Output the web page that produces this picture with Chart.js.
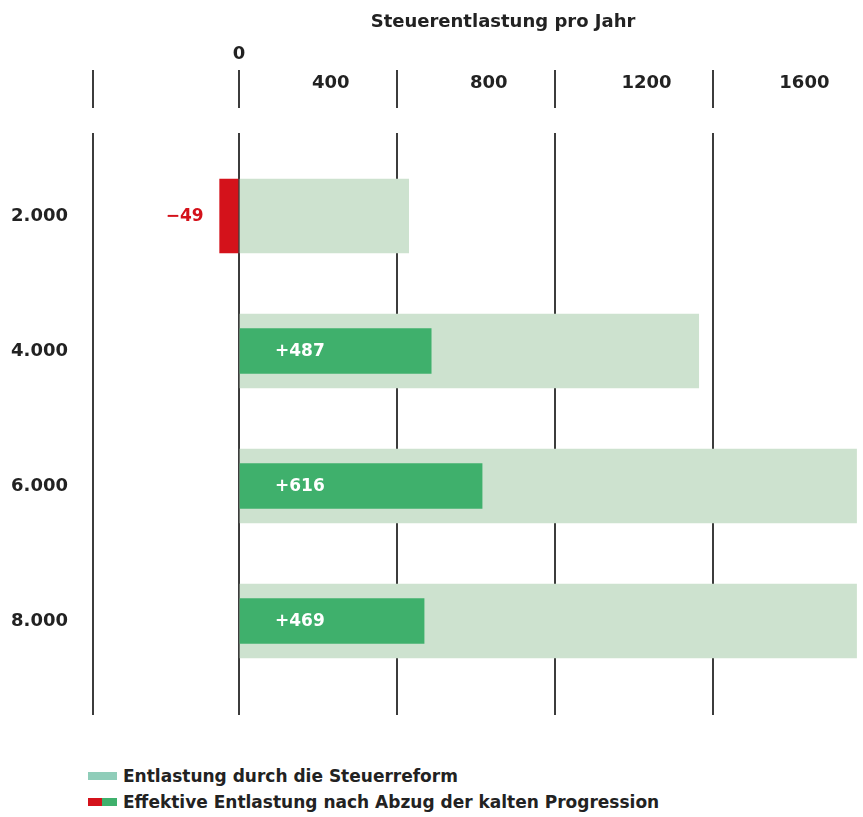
<!DOCTYPE html>
<html lang="de">
<head>
<meta charset="utf-8">
<title>Steuerentlastung pro Jahr</title>
<script src="https://cdn.jsdelivr.net/npm/chart.js@4.4.1/dist/chart.umd.min.js"></script>
<style>
  html, body { margin: 0; padding: 0; background: #fff; }
  #wrap { position: relative; width: 863px; height: 817px; overflow: hidden; }
  #grafica { position: absolute; left: 0; top: 0; }
  #legende { position: absolute; left: 88px; top: 763px; font: bold 17px "DejaVu Sans", sans-serif; color: #222; }
  .eintrag { height: 26px; line-height: 26px; white-space: nowrap; }
  .farbe { display: inline-block; width: 29px; height: 8px; vertical-align: middle; margin: -2px 6px 0 0; }
</style>
</head>
<body>
<div id="wrap">
  <canvas id="grafica" width="913" height="740"></canvas>
  <div id="legende"></div>
</div>
<script>
// Daten
const kategorien = ['2.000', '4.000', '6.000', '8.000'];
const entlastungReform = [430, 1165, 1565, 1565];
const entlastungEffektiv = [-49, 487, 616, 469];
const gitterWerte = [-370, 0, 400, 800, 1200, 1600];
const achsenBeschriftung = ['400', '800', '1200', '1600'];
const serienNamen = ['Entlastung durch die Steuerreform', 'Effektive Entlastung nach Abzug der kalten Progression'];

const farbeHell = '#cde2cf';
const farbeLegende = '#8fcdb9';
const farbeGruen = '#3fb06c';
const farbeRot = '#d4121b';
const farbeText = '#222';
const farbeGitter = '#3c3c3c';

const xMin = -370, xMax = 1708;
const yMin = -0.615, yMax = 3.696;

const schrift = { family: '"DejaVu Sans", sans-serif', size: 18, weight: 'bold', lineHeight: 1 };

// Legende unter der Grafik
const legende = document.getElementById('legende');
const swatches = [farbeLegende, 'linear-gradient(90deg,' + farbeRot + ' 0 50%,' + farbeGruen + ' 50% 100%)'];
serienNamen.forEach(function(name, i) {
    let zeile = document.createElement('div');
    zeile.className = 'eintrag';
    let box = document.createElement('span');
    box.className = 'farbe';
    box.style.background = swatches[i];
    zeile.appendChild(box);
    zeile.appendChild(document.createTextNode(name));
    legende.appendChild(zeile);
});

// Zahlen an den Balken
const wertBeschriftung = {
    id: 'wertBeschriftung',
    afterDatasetsDraw(chart) {
        const ctx = chart.ctx;
        ctx.save();
        ctx.font = 'bold 17px "DejaVu Sans", sans-serif';
        ctx.textBaseline = 'middle';
        [1, 2].forEach(function(d) {
            const meta = chart.getDatasetMeta(d);
            meta.data.forEach(function(bar, j) {
                const wert = chart.data.datasets[d].data[j].x;
                if (wert < 0) {
                    ctx.fillStyle = farbeRot;
                    ctx.textAlign = 'right';
                    ctx.fillText('\u2212' + Math.abs(wert), bar.x - 16, bar.y + 1);
                } else {
                    ctx.fillStyle = '#fff';
                    ctx.textAlign = 'left';
                    ctx.fillText('+' + wert, bar.base + 35, bar.y + 1);
                }
            });
        });
        ctx.restore();
    }
};

function ohnePadding(scale) {
    scale.paddingLeft = 0;
    scale.paddingRight = 0;
    scale.paddingTop = 0;
    scale.paddingBottom = 0;
}

const ctx = document.getElementById('grafica').getContext('2d');
new Chart(ctx, {
    type: 'bar',
    data: {
        datasets: [{
            label: serienNamen[0],
            data: entlastungReform.map((v, i) => ({ x: v, y: i })),
            backgroundColor: farbeHell,
            barThickness: 74,
            grouped: false,
            order: 2
        }, {
            label: serienNamen[1],
            data: entlastungEffektiv.map((v, i) => ({ x: v, y: i })).filter(p => p.x < 0),
            backgroundColor: farbeRot,
            barThickness: 74,
            grouped: false,
            order: 1
        }, {
            label: serienNamen[1],
            data: entlastungEffektiv.map((v, i) => ({ x: v, y: i })).filter(p => p.x > 0),
            backgroundColor: farbeGruen,
            barThickness: 45,
            grouped: false,
            order: 1
        }]
    },
    options: {
        indexAxis: 'y',
        responsive: false,
        animation: false,
        layout: { padding: { top: 0, left: 0, right: 0, bottom: 25 } },
        plugins: {
            legend: { display: false },
            tooltip: { enabled: false }
        },
        scales: {
            y: {
                type: 'linear',
                reverse: true,
                offset: false,
                bounds: 'data',
                min: yMin,
                max: yMax,
                afterBuildTicks: s => {
                    s.ticks = kategorien.map((k, i) => ({ value: i }));
                    s.min = yMin;
                    s.max = yMax;
                },
                afterFit: s => { s.width = 93; ohnePadding(s); },
                ticks: { callback: v => kategorien[v], font: schrift, color: farbeText, padding: 25 },
                grid: { display: false, drawTicks: false, offset: false },
                border: { display: false }
            },
            x: {
                type: 'linear',
                position: 'top',
                weight: 0,
                bounds: 'data',
                min: xMin,
                max: xMax,
                afterBuildTicks: s => {
                    s.ticks = gitterWerte.map(v => ({ value: v }));
                    s.min = xMin;
                    s.max = xMax;
                },
                afterFit: s => { s.height = 63; ohnePadding(s); },
                ticks: {
                    callback: v => achsenBeschriftung.includes(String(v)) ? String(v) : '',
                    labelOffset: -66,
                    padding: -22,
                    autoSkip: false,
                    maxRotation: 0,
                    font: schrift,
                    color: farbeText
                },
                grid: {
                    color: farbeGitter,
                    lineWidth: 2,
                    drawTicks: true,
                    tickLength: 63,
                    tickBorderDash: [38, 25],
                    tickColor: farbeGitter,
                    tickWidth: 2
                },
                border: { display: false }
            },
            xt: {
                type: 'linear',
                position: 'top',
                weight: 1,
                bounds: 'data',
                min: xMin,
                max: xMax,
                afterBuildTicks: s => {
                    s.ticks = [{ value: 0 }];
                    s.min = xMin;
                    s.max = xMax;
                },
                afterFit: s => { s.height = 70; ohnePadding(s); },
                ticks: { callback: v => String(v), font: schrift, color: farbeText, padding: 7, maxRotation: 0 },
                grid: { display: false, drawTicks: false },
                border: { display: false },
                title: {
                    display: true,
                    text: 'Steuerentlastung pro Jahr',
                    font: schrift,
                    color: farbeText,
                    padding: { top: 13, bottom: 0 }
                }
            }
        }
    },
    plugins: [wertBeschriftung]
});
</script>
</body>
</html>
